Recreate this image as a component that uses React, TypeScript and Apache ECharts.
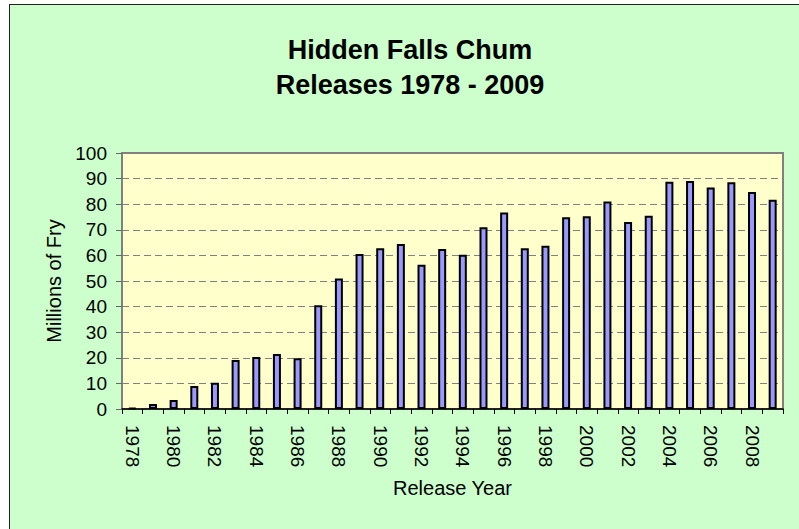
import React, { useEffect, useRef } from "react";
import * as echarts from "echarts";

const years: string[] = [
  "1978", "1979", "1980", "1981", "1982", "1983", "1984", "1985", "1986", "1987",
  "1988", "1989", "1990", "1991", "1992", "1993", "1994", "1995", "1996", "1997",
  "1998", "1999", "2000", "2001", "2002", "2003", "2004", "2005", "2006", "2007",
  "2008", "2009",
];

const releases: number[] = [
  0.4, 2.0, 3.5, 9.0, 10.3, 19.1, 20.3, 21.5, 19.8, 40.5,
  51.0, 60.5, 62.8, 64.5, 56.3, 62.5, 60.3, 71.0, 76.8, 62.8,
  63.8, 74.9, 75.3, 81.1, 73.0, 75.5, 88.8, 89.1, 86.5, 88.6,
  84.8, 81.7,
];

const titleLines: string[] = ["Hidden Falls Chum", "Releases 1978 - 2009"];
const xAxisName = "Release Year";
const yAxisName = "Millions of Fry";

const FONT = "'Liberation Sans', Arial, sans-serif";

export default function App() {
  const ref = useRef<HTMLDivElement>(null);

  useEffect(() => {
    if (!ref.current) return;
    const chart = echarts.init(ref.current, undefined, { renderer: "svg" });
    chart.setOption({
      animation: false,
      backgroundColor: "transparent",
      textStyle: { fontFamily: FONT },
      title: {
        text: titleLines.join("\n"),
        left: 410,
        top: 32,
        textAlign: "center",
        padding: 0,
        textStyle: {
          fontFamily: FONT,
          fontSize: 27,
          fontWeight: "bold",
          color: "#000",
          lineHeight: 35,
        },
      },
      grid: {
        left: 122,
        top: 153,
        width: 661,
        height: 256,
        show: true,
        backgroundColor: "#FFFFCC",
        borderColor: "#808080",
        borderWidth: 2,
      },
      xAxis: {
        type: "category",
        data: years,
        name: xAxisName,
        nameLocation: "middle",
        nameGap: 69,
        nameTextStyle: { fontFamily: FONT, fontSize: 20, color: "#000" },
        axisLine: { show: true, lineStyle: { color: "#000", width: 1.5 } },
        axisTick: {
          show: true,
          interval: 0,
          alignWithLabel: false,
          length: 5,
          lineStyle: { color: "#000", width: 1 },
        },
        axisLabel: {
          interval: 1,
          rotate: -90,
          margin: 16,
          fontFamily: FONT,
          fontSize: 19,
          color: "#000",
        },
        splitLine: { show: false },
      },
      yAxis: {
        type: "value",
        min: 0,
        max: 100,
        interval: 10,
        name: yAxisName,
        nameLocation: "middle",
        nameGap: 57,
        nameTextStyle: { fontFamily: FONT, fontSize: 20, color: "#000" },
        axisLine: { show: true, lineStyle: { color: "#808080", width: 2 } },
        axisTick: { show: true, length: 6, lineStyle: { color: "#666", width: 1 } },
        axisLabel: { margin: 15, fontFamily: FONT, fontSize: 19, color: "#000" },
        splitLine: {
          show: true,
          lineStyle: { color: "#808080", width: 1, type: [7, 4] },
        },
      },
      series: [
        {
          type: "bar",
          data: releases,
          barWidth: 8,
          itemStyle: {
            color: "#9999FF",
            borderColor: "#000",
            borderWidth: 2,
          },
        },
      ],
    });
    return () => chart.dispose();
  }, []);

  return (
    <div style={{ position: "fixed", left: 0, top: 0, width: 799, height: 529, background: "#fff" }}>
      <div
        style={{
          position: "absolute",
          left: 9,
          top: 4,
          width: 800,
          height: 540,
          background: "#CCFFCC",
          borderLeft: "1.5px solid #222",
          borderTop: "1.5px solid #222",
        }}
      />
      <div ref={ref} style={{ position: "absolute", left: 0, top: 0, width: 799, height: 529 }} />
    </div>
  );
}
